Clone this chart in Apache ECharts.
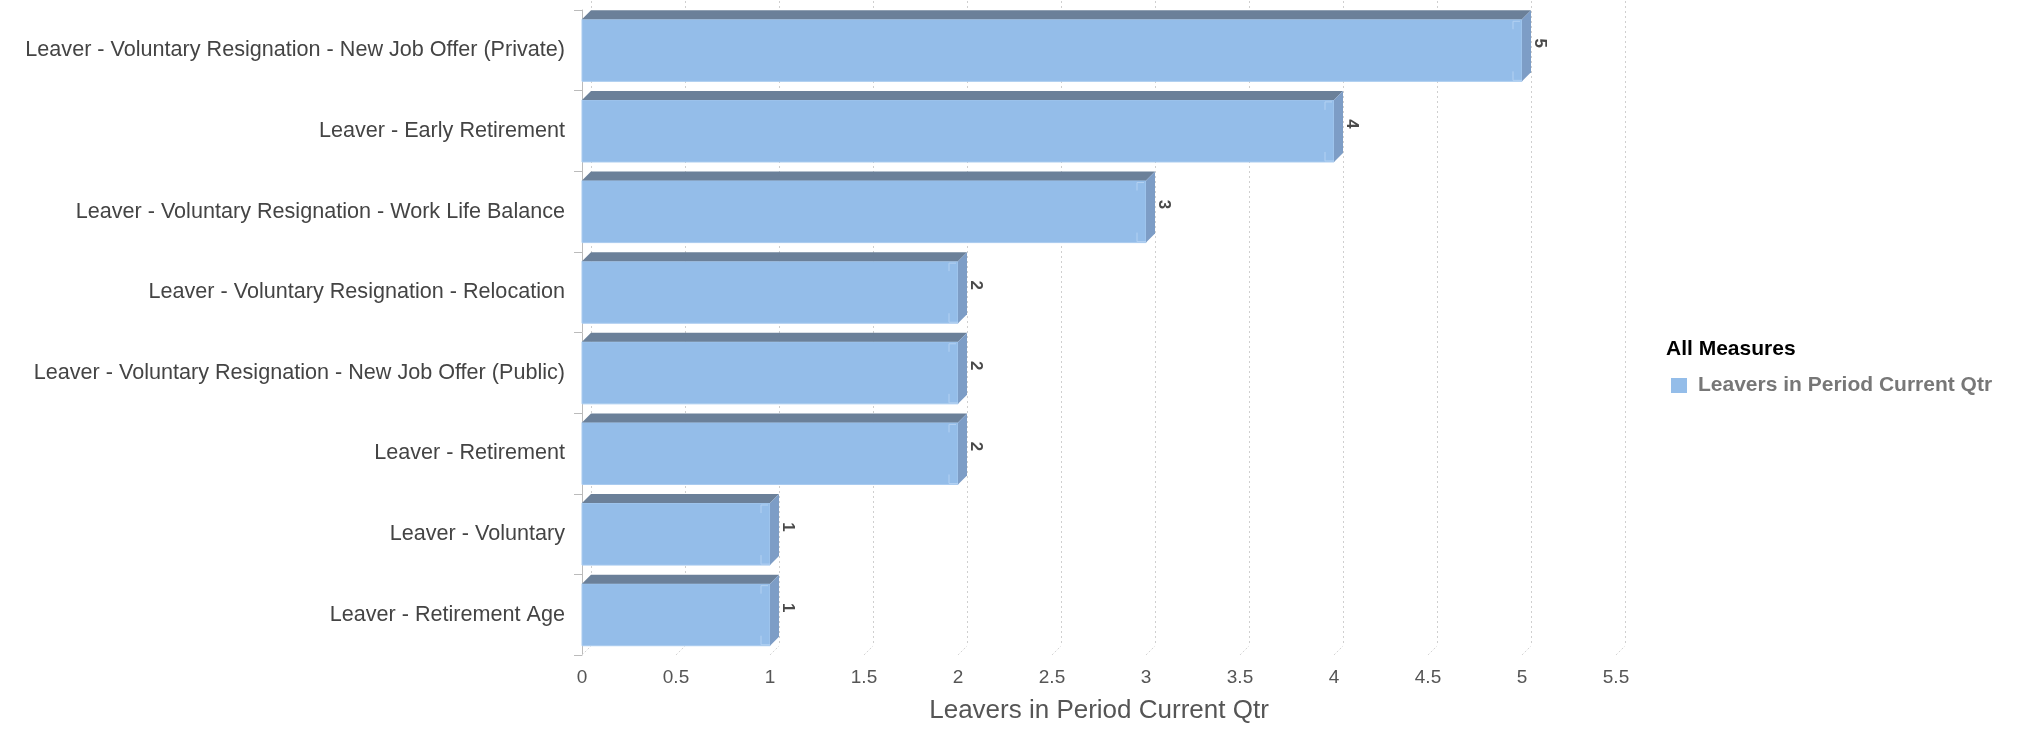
<!DOCTYPE html>
<html>
<head>
<meta charset="utf-8">
<title>Leavers in Period Current Qtr</title>
<script src="https://cdn.jsdelivr.net/npm/echarts@6/dist/echarts.min.js"></script>
<style>
  html, body { margin: 0; padding: 0; background: #fff; }
  #chart { width: 2022px; height: 730px; }
</style>
</head>
<body>
<div id="chart"></div>
<script>
// Leaving reasons, top to bottom
const categories = [
  'Leaver - Voluntary Resignation - New Job Offer (Private)',
  'Leaver - Early Retirement',
  'Leaver - Voluntary Resignation - Work Life Balance',
  'Leaver - Voluntary Resignation - Relocation',
  'Leaver - Voluntary Resignation - New Job Offer (Public)',
  'Leaver - Retirement',
  'Leaver - Voluntary',
  'Leaver - Retirement Age'
];
// Number of leavers per reason
const leavers = [5, 4, 3, 2, 2, 2, 1, 1];
// Value axis ticks
const xTicks = [0, 0.5, 1, 1.5, 2, 2.5, 3, 3.5, 4, 4.5, 5, 5.5];

const seriesName = 'Leavers in Period Current Qtr';
const FONT = '"Liberation Sans", Arial, Helvetica, sans-serif';
const DEPTH = 9;                 // 3D extrusion offset (px)
const FRONT = '#94bde9';
const TOP = '#6b8099';
const SIDE = '#7d9dc6';
const EDGE = '#a9cbef';

const chart = echarts.init(document.getElementById('chart'), null, { renderer: 'canvas' });

// Extruded bar: front face, top face, right side face and value label
function renderBar(params, api) {
  const i = api.value(1);
  const v = api.value(0);
  const p0 = api.coord([0, i]);
  const p1 = api.coord([v, i]);
  const h = api.size([0, 1])[1] * 0.77;
  const x0 = p0[0], x1 = p1[0];
  const yT = p0[1] - h / 2, yB = p0[1] + h / 2;
  const d = DEPTH;
  return {
    type: 'group',
    children: [
      { type: 'rect', shape: { x: x0, y: yT, width: x1 - x0, height: h },
        style: { fill: FRONT, stroke: EDGE, lineWidth: 1 } },
      { type: 'polygon', shape: { points: [[x0, yT], [x0 + d, yT - d], [x1 + d, yT - d], [x1, yT]] },
        style: { fill: TOP } },
      { type: 'polygon', shape: { points: [[x1, yT], [x1 + d, yT - d], [x1 + d, yB - d], [x1, yB]] },
        style: { fill: SIDE } },
      { type: 'polyline', shape: { points: [[x1 - 9, yT + 10], [x1 - 9, yT + 2], [x1 - 2, yT + 2]] },
        style: { stroke: '#b3d1f2', lineWidth: 1, fill: null } },
      { type: 'polyline', shape: { points: [[x1 - 9, yB - 10], [x1 - 9, yB - 1], [x1, yB - 1]] },
        style: { stroke: '#b3d1f2', lineWidth: 1, fill: null } },
      { type: 'text', x: x1 + 18, y: p0[1] - 7, rotation: -Math.PI / 2,
        style: { text: String(v), fill: '#4a4a4a', font: 'bold 17px ' + FONT,
                 align: 'center', verticalAlign: 'middle' } }
    ]
  };
}

// Slanted floor lines joining the value ticks to the back wall
function renderFloor(params, api) {
  const v = api.value(0);
  const cs = params.coordSys;
  const p = api.coord([v, 0]);
  const yb = cs.y + cs.height;
  return {
    type: 'line',
    shape: { x1: p[0], y1: yb, x2: p[0] + DEPTH, y2: yb - DEPTH },
    style: { stroke: '#d4d4d4', lineWidth: 1, lineDash: [2, 2] }
  };
}

const option = {
  backgroundColor: '#fff',
  animation: false,
  title: {
    text: 'All Measures',
    left: 1666, top: 339, padding: 0,
    textStyle: { fontFamily: FONT, fontSize: 21, fontWeight: 'bold', color: '#000' }
  },
  legend: {
    data: [seriesName],
    left: 1671, top: 375, padding: 0,
    orient: 'vertical',
    icon: 'rect', itemWidth: 16, itemHeight: 15,
    textStyle: { fontFamily: FONT, fontSize: 21, fontWeight: 'bold', color: '#777', padding: [0, 0, 0, 6] }
  },
  grid: [
    { left: 582, top: 10, width: 1034, height: 645, containLabel: false },
    { left: 582 + DEPTH, top: 10 - DEPTH, width: 1034, height: 645, containLabel: false }
  ],
  xAxis: [
    {
      gridIndex: 0, type: 'value', min: 0, max: 5.5, interval: 0.5,
      axisLine: { show: false }, axisTick: { show: false }, splitLine: { show: false },
      axisLabel: { fontFamily: FONT, fontSize: 19, color: '#555', margin: 13 },
      name: seriesName, nameLocation: 'middle', nameGap: 43,
      nameTextStyle: { fontFamily: FONT, fontSize: 26, color: '#555' }
    },
    {
      gridIndex: 1, type: 'value', min: 0, max: 5.5, interval: 0.5,
      axisLine: { show: false }, axisTick: { show: false }, axisLabel: { show: false },
      splitLine: { show: true, lineStyle: { color: '#cfcfcf', width: 1, type: [2, 3] } }
    }
  ],
  yAxis: [
    {
      gridIndex: 0, type: 'category', data: categories, inverse: true,
      axisLine: { show: true, lineStyle: { color: '#bbbbbb' } },
      axisTick: { show: true, length: 8, lineStyle: { color: '#bbbbbb' } },
      axisLabel: { fontFamily: FONT, fontSize: 21.6, color: '#444', margin: 17 },
      splitLine: { show: false }
    },
    {
      gridIndex: 1, type: 'category', data: categories, inverse: true, show: false
    }
  ],
  series: [
    {
      name: 'floor', type: 'custom', xAxisIndex: 0, yAxisIndex: 0,
      renderItem: renderFloor, data: xTicks.map(t => [t]), silent: true, z: 1,
      encode: { x: 0 }
    },
    {
      name: seriesName, type: 'custom', xAxisIndex: 0, yAxisIndex: 0,
      itemStyle: { color: FRONT },
      renderItem: renderBar,
      data: leavers.map((v, i) => [v, i]),
      encode: { x: 0, y: 1 }, z: 2
    }
  ]
};

chart.setOption(option);
</script>
</body>
</html>
